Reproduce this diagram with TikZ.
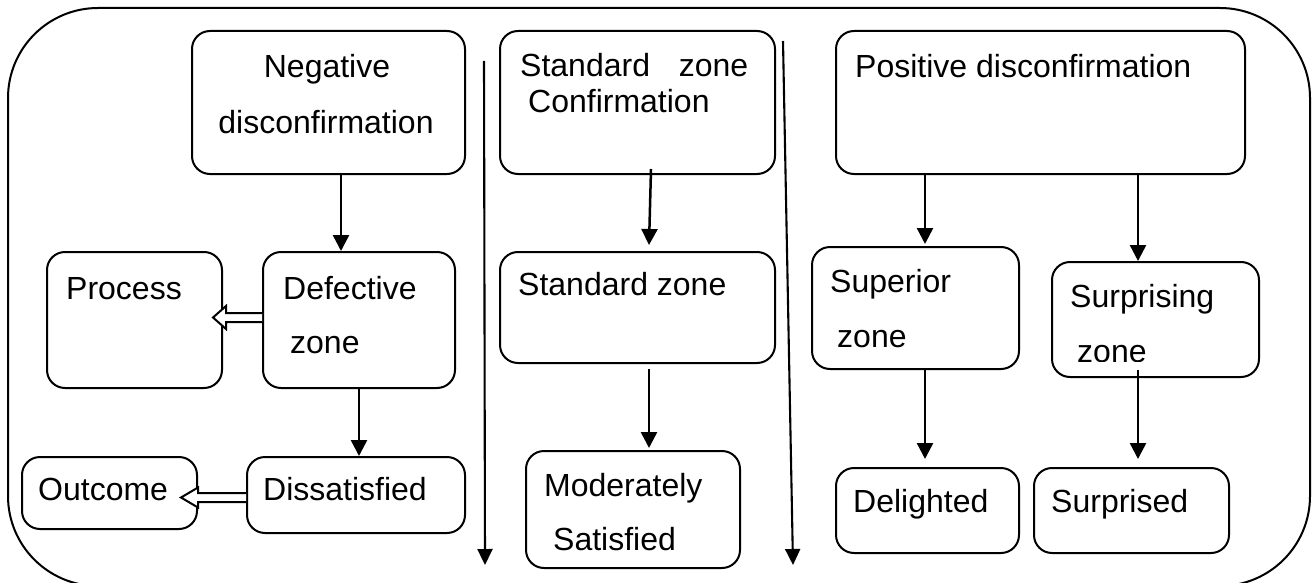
\documentclass[tikz,border=0pt]{standalone}
\usepackage{fontspec}
\setmainfont{Liberation Sans}
\usetikzlibrary{arrows.meta,calc}
\begin{document}
\begin{tikzpicture}[x=1pt,y=-1pt,
  box/.style={draw, rounded corners=18pt, line width=2pt, inner sep=0pt},
  txt/.style={inner sep=0pt, anchor=base west, font=\fontsize{32}{38}\selectfont},
  arr/.style={line width=2.5pt, -{Triangle[width=16pt,length=16pt]}},
  vline/.style={line width=2.1pt, -{Triangle[width=15pt,length=16pt]}},
  hollow/.style={line width=2pt, fill=white, line join=miter}]
\useasboundingbox (0,0) rectangle (1316,583);
% outer frame
\node[draw, line width=2pt, rounded corners=90pt, inner sep=0pt,
      minimum width=1302pt, minimum height=578pt] (frame) at (659,297) {};
% boxes
\node[box, minimum width=273pt, minimum height=143pt] (neg)  at (328.5,102.5) {};
\node[box, minimum width=175pt, minimum height=136pt] (proc) at (134.5,320) {};
\node[box, minimum width=192pt, minimum height=136pt] (def)  at (359,320) {};
\node[box, minimum width=175pt, minimum height=72pt]  (out)  at (109.5,493) {};
\node[box, minimum width=218pt, minimum height=76pt]  (diss) at (356,495) {};
\node[box, minimum width=275pt, minimum height=143pt] (conf) at (637.5,102.5) {};
\node[box, minimum width=275pt, minimum height=111pt] (std)  at (637.5,307.5) {};
\node[box, minimum width=214pt, minimum height=117pt] (mod)  at (633,509.5) {};
\node[box, minimum width=409pt, minimum height=143pt] (pos)  at (1040.5,102.5) {};
\node[box, minimum width=207pt, minimum height=122pt] (sup)  at (915.5,308) {};
\node[box, minimum width=207pt, minimum height=115pt] (surp) at (1155.5,319.5) {};
\node[box, minimum width=183pt, minimum height=85pt]  (del)  at (927.5,510.5) {};
\node[box, minimum width=195pt, minimum height=85pt]  (sur)  at (1131.5,510.5) {};
% texts
\node[txt, anchor=base] (tneg1) at (327,78) {Negative};
\node[txt, anchor=base] (tneg2) at (326,133) {disconfirmation};
\node[txt] (tproc) at (66,299) {Process};
\node[txt] (tdef1) at (283,299) {Defective};
\node[txt] (tdef2) at (290,353) {zone};
\node[txt] (tout) at (38,500) {Outcome};
\node[txt] (tdiss) at (263,500) {Dissatisfied};
\node[txt] (tconf1) at (520,77) {\makebox[228pt][s]{Standard zone}};
\node[txt] (tconf2) at (528,113) {Confirmation};
\node[txt] (tstd) at (518,295) {Standard zone};
\node[txt] (tmod1) at (544,496) {Moderately};
\node[txt] (tmod2) at (553,550) {Satisfied};
\node[txt] (tpos) at (855,78) {Positive disconfirmation};
\node[txt] (tsup1) at (830,292) {Superior};
\node[txt] (tsup2) at (837,347) {zone};
\node[txt] (tsurp1) at (1070,307) {Surprising};
\begin{scope}
\clip (1052,320) rectangle (1259,361);
\node[txt] (tsurp2) at (1077,362) {zone};
\end{scope}
\node[txt] (tdel) at (853,512) {Delighted};
\node[txt] (tsur) at (1051,512) {Surprised};
% arrows
\draw[arr] ($(neg.south)+(12.5,0)$) -- ($(def.north)+(-18,0)$);
\draw[arr] (def.south) -- ($(diss.north)+(3,0)$);
\draw[arr] ($(conf.south)+(13.5,-6)$) -- ($(std.north)+(11.5,-6)$);
\draw[arr] ($(std.south)+(11.5,5)$) -- ($(mod.north)+(16,-2)$);
\draw[arr] ($(pos.south)+(-115.5,0)$) -- ($(sup.north)+(9.5,-2)$);
\draw[arr] ($(pos.south)+(97.5,0)$) -- ($(surp.north)+(-17.5,0)$);
\draw[arr] ($(sup.south)+(9.5,0)$) -- ($(del.north)+(-2.5,-8)$);
\draw[arr] ($(surp.south)+(-17.5,-8)$) -- ($(sur.north)+(6.5,-8)$);
% long vertical arrows
\coordinate (v1s) at (484,61);
\coordinate (v1e) at (485,565);
\coordinate (v2s) at (783,41);
\coordinate (v2e) at (793,565);
\draw[vline] (v1s) -- (v1e);
\draw[vline] (v2s) -- (v2e);
% hollow arrows
\draw[hollow] ($(def.west)+(0,-7)$) -- ($(proc.east)+(3,-7)$) -- ($(proc.east)+(3,-14)$)
  -- ($(proc.east)+(-10,-2.5)$) -- ($(proc.east)+(3,9)$) -- ($(proc.east)+(3,2)$)
  -- ($(def.west)+(0,2)$);
\draw[hollow] ($(diss.west)+(0,-2)$) -- ($(out.east)+(0,0)$) -- ($(out.east)+(0,-5.5)$)
  -- ($(out.east)+(-17,4.5)$) -- ($(out.east)+(0,14.5)$) -- ($(out.east)+(0,9)$)
  -- ($(diss.west)+(0,7)$);
\end{tikzpicture}
\end{document}
